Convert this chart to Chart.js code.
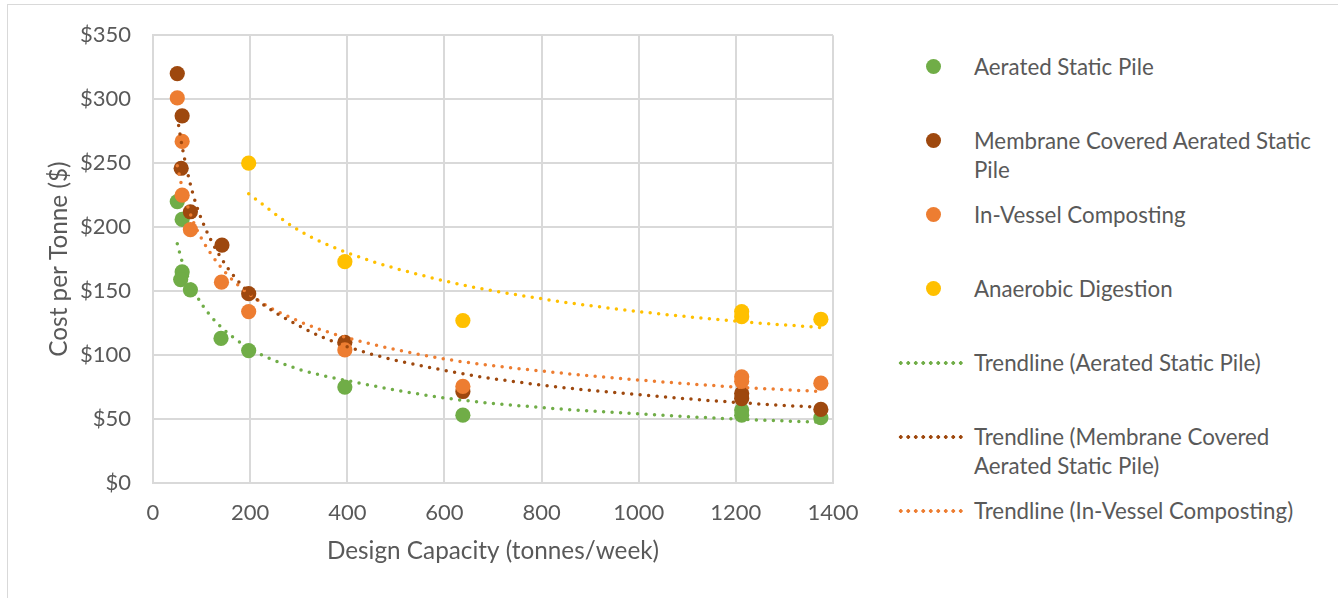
<!DOCTYPE html>
<html>
<head>
<meta charset="utf-8">
<script src="https://cdn.jsdelivr.net/npm/chart.js@4.4.0/dist/chart.umd.min.js"></script>
<style>
  html, body { margin: 0; padding: 0; background: #fff; overflow: hidden; }
  body { width: 1338px; height: 598px; position: relative; font-family: Lato, sans-serif; }
  #frame { position: absolute; left: 7px; top: 4px; width: 1400px; height: 700px; border: 1px solid #d9d9d9; }
  #wrap { position: absolute; left: 0; top: 0; width: 860px; height: 598px; }
  .item { position: absolute; left: 890px; height: 60px; }
  .item .txt { position: absolute; left: 84px; top: 0; color: #595959; font-size: 22.3px; line-height: 29px; white-space: nowrap; }
  .item .dot { position: absolute; left: 35.5px; top: 7px; width: 15px; height: 15px; border-radius: 50%; }
  .item .dash { position: absolute; left: 7px; top: 13px; width: 66px; height: 4px; }
</style>
</head>
<body>
<div id="frame"></div>
<div id="wrap"><canvas id="costChart"></canvas></div>
<div id="legend"></div>
<script>
// scatter points (x = tonnes/week, y = $/tonne)
const aspX = [50, 60, 60, 57, 77, 140, 197, 395, 638, 1212, 1212, 1375];
const aspY = [220, 206, 165, 159, 151, 113, 103.5, 75, 53, 57, 53, 51];

const mcaspX = [50, 60, 58, 77, 142, 197, 395, 638, 1212, 1212, 1375];
const mcaspY = [320, 287, 246, 212, 186, 148, 110, 71.5, 70, 66, 57.5];

const ivcX = [50, 60, 60, 77, 141, 197, 395, 638, 1212, 1212, 1375];
const ivcY = [301, 267, 225, 198, 157, 134, 104, 75.5, 83, 79.5, 78];

const adX = [197, 395, 638, 1212, 1212, 1375];
const adY = [250, 173, 127, 134, 130, 128];

// trendlines
const trendX = [50, 60, 80, 100, 140, 200, 300, 400, 600, 800, 1000, 1200, 1375];
const aspTrend = [187, 173, 154, 140, 122, 105, 89, 80, 66.5, 59, 54, 50, 47.5];
const mcaspTrend = [286, 263, 229, 206, 176, 148, 123, 106.5, 88, 76.5, 69, 63, 59];
const ivcTrend = [248, 231, 207, 191, 168.5, 147, 126.5, 113.5, 97, 87.5, 80.5, 75, 71.5];
const adTrendX = [197, 300, 400, 600, 800, 1000, 1200, 1375];
const adTrend = [226, 197.5, 180, 158, 144, 134, 126.5, 121.5];

const seriesNames = ["Aerated Static Pile", "Membrane Covered Aerated Static Pile", "In-Vessel Composting", "Anaerobic Digestion"];
const seriesColors = ["#70AD47", "#9E480E", "#ED7D31", "#FFC000"];

// legend entries as Excel wraps them (the last trendline entry is cut off)
const legendLines = [
  ["Aerated Static Pile"],
  ["Membrane Covered Aerated Static", "Pile"],
  ["In-Vessel Composting"],
  ["Anaerobic Digestion"],
  ["Trendline (Aerated Static Pile)"],
  ["Trendline (Membrane Covered", "Aerated Static Pile)"],
  ["Trendline (In-Vessel Composting)"]
];

const xTicks = [0, 200, 400, 600, 800, 1000, 1200, 1400];
const yTicks = [0, 50, 100, 150, 200, 250, 300, 350];

const pts = (xs, ys) => xs.map((x, i) => ({ x: x, y: ys[i] }));

function pointSet(i, xs, ys, order) {
  return {
    label: seriesNames[i],
    data: pts(xs, ys),
    backgroundColor: seriesColors[i],
    borderWidth: 0,
    pointRadius: 7.6,
    pointHoverRadius: 7.6,
    showLine: false,
    order: order
  };
}

function trendSet(i, xs, ys) {
  return {
    label: "Trendline (" + seriesNames[i] + ")",
    data: pts(xs, ys),
    borderColor: seriesColors[i],
    borderWidth: 3.5,
    borderDash: [0, 8.5],
    borderCapStyle: "round",
    pointRadius: 0,
    showLine: true,
    fill: false,
    cubicInterpolationMode: "monotone",
    order: 0
  };
}

Chart.defaults.font.family = "Lato, sans-serif";
Chart.defaults.color = "#595959";

new Chart(document.getElementById("costChart"), {
  type: "scatter",
  data: {
    datasets: [
      pointSet(0, aspX, aspY, 7),
      pointSet(1, mcaspX, mcaspY, 6),
      pointSet(2, ivcX, ivcY, 5),
      pointSet(3, adX, adY, 4),
      trendSet(0, trendX, aspTrend),
      trendSet(1, trendX, mcaspTrend),
      trendSet(2, trendX, ivcTrend),
      trendSet(3, adTrendX, adTrend)
    ]
  },
  options: {
    responsive: true,
    maintainAspectRatio: false,
    animation: false,
    layout: { padding: { top: 33, right: 0, left: 0, bottom: 0 } },
    plugins: { legend: { display: false }, tooltip: { enabled: false } },
    scales: {
      x: {
        type: "linear",
        min: 0,
        max: 1400,
        afterFit: s => { s.height = 115; s.paddingLeft = 0; s.paddingRight = 27; },
        afterBuildTicks: s => { s.ticks = xTicks.map(v => ({ value: v })); },
        grid: { color: "#d9d9d9", lineWidth: 2, drawTicks: false },
        border: { color: "#d9d9d9", width: 2 },
        ticks: { padding: 17, font: { size: 22 }, color: "#595959", maxRotation: 0, callback: v => String(v) },
        title: { display: true, text: "Design Capacity (tonnes/week)", font: { size: 24.3 }, color: "#595959", padding: { top: 0, bottom: 32 } }
      },
      y: {
        min: 0,
        max: 350,
        afterFit: s => { s.width = 153; },
        afterBuildTicks: s => { s.ticks = yTicks.map(v => ({ value: v })); },
        grid: { color: "#d9d9d9", lineWidth: 2, drawTicks: false },
        border: { color: "#d9d9d9", width: 2 },
        ticks: { padding: 22, font: { size: 22 }, color: "#595959", callback: v => "$" + v },
        title: { display: true, text: "Cost per Tonne ($)", font: { size: 24.3 }, color: "#595959", padding: { top: 45, bottom: 0 } }
      }
    }
  }
});

// html legend to the right of the plot
const legend = document.getElementById("legend");
legendLines.forEach((lines, i) => {
  const item = document.createElement("div");
  item.className = "item";
  item.style.top = (52 + i * 74) + "px";
  const color = seriesColors[i % 4];
  if (i < 4) {
    item.innerHTML = `<div class="dot" style="background:${color}"></div>`;
  } else {
    item.innerHTML = `<div class="dash" style="background-image:radial-gradient(circle, ${color} 1.7px, transparent 2px);background-size:7.5px 4px;"></div>`;
  }
  item.innerHTML += `<div class="txt">${lines.join("<br>")}</div>`;
  legend.appendChild(item);
});
</script>
</body>
</html>
